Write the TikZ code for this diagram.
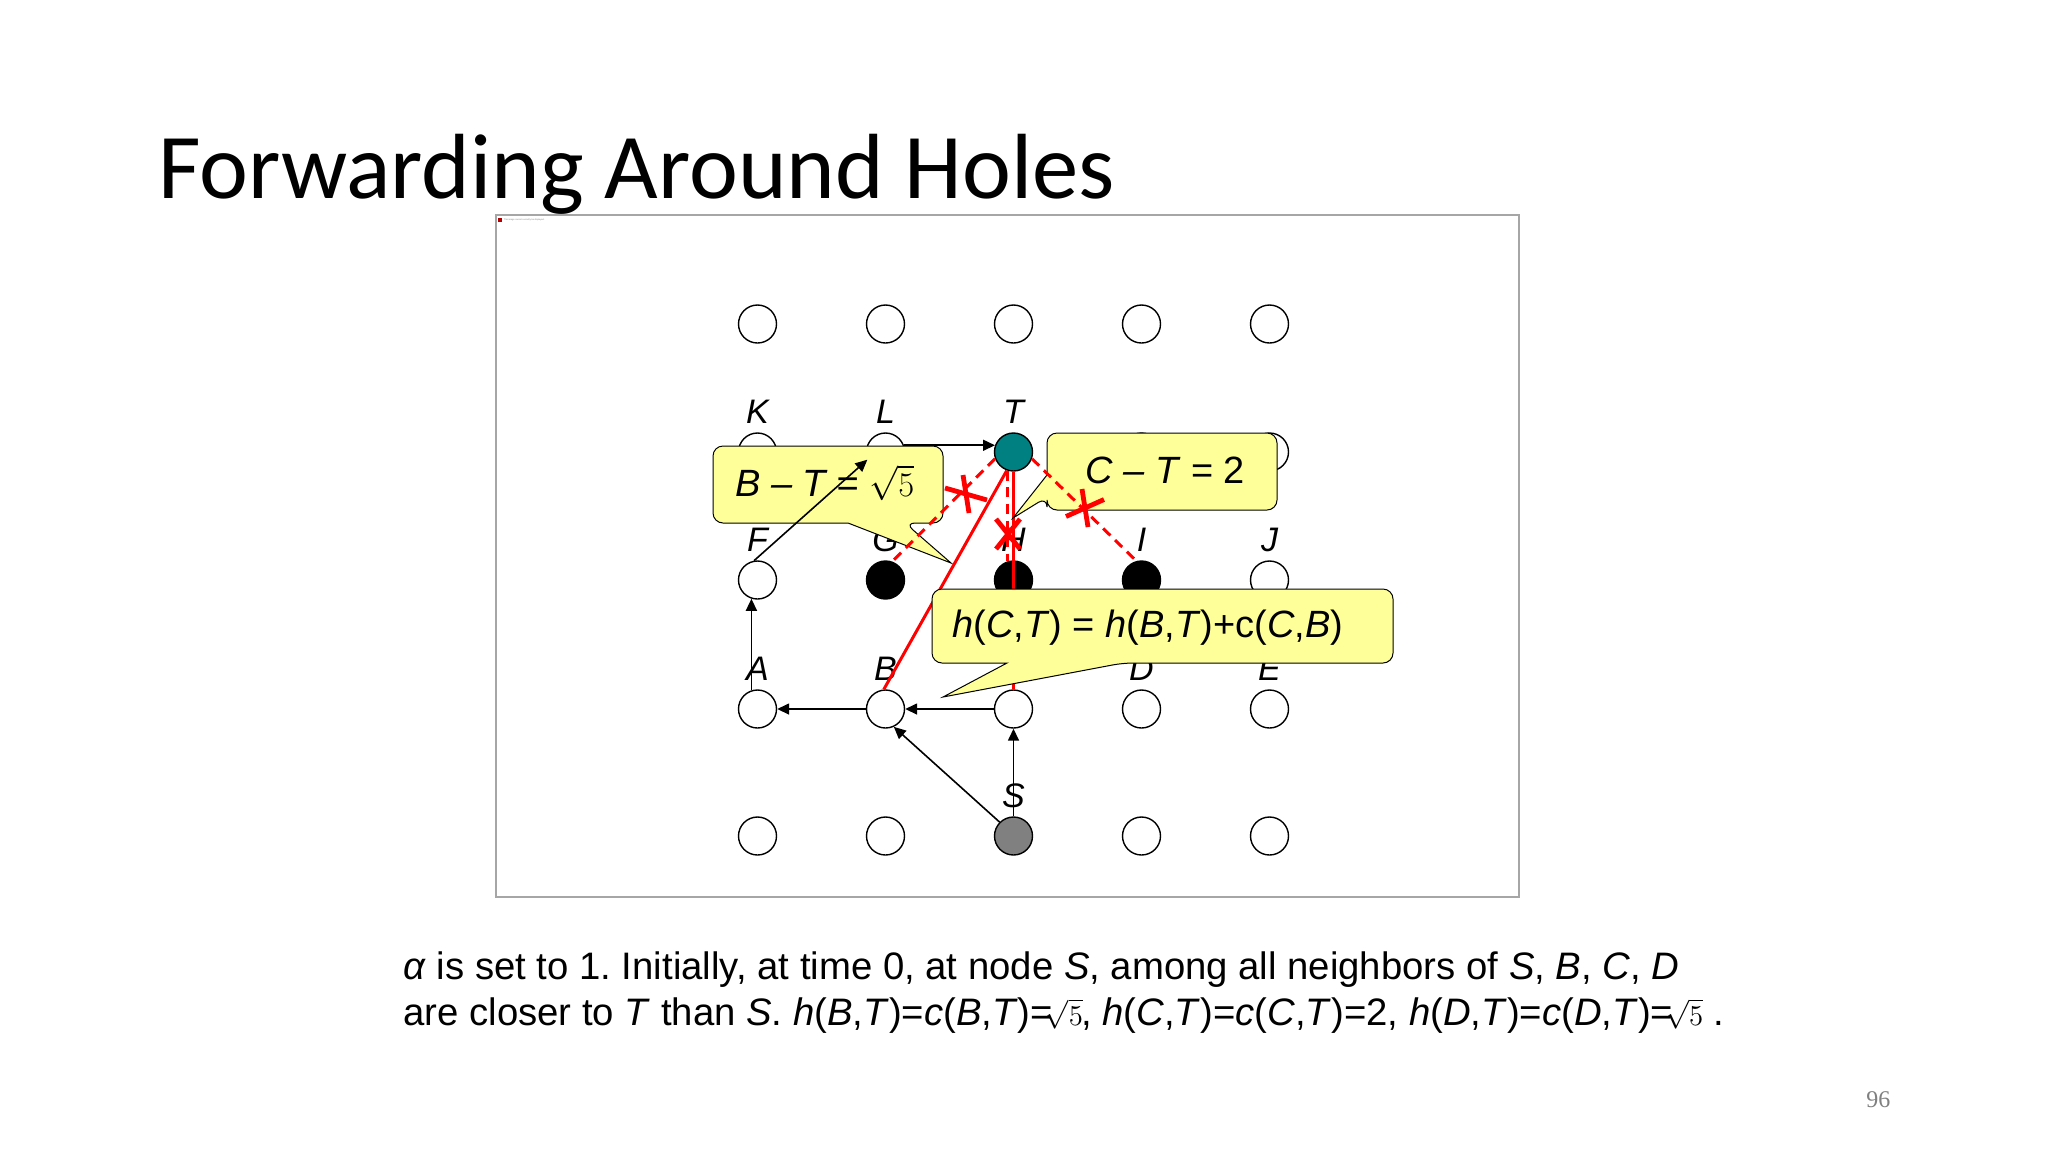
\documentclass[tikz,border=0pt]{standalone}
\usepackage{fontspec}
\setmainfont{Liberation Sans}
\newfontfamily\titlefont{Carlito}
\newfontfamily\numfont{Liberation Serif}
\usetikzlibrary{arrows.meta}
\definecolor{callfill}{HTML}{FFFF99}
\definecolor{tealnode}{HTML}{008080}
\definecolor{framegray}{HTML}{A6A6A6}
\newcommand{\rtcall}{{\fontsize{17}{17}\selectfont$\sqrt{5}$}}
\newcommand{\rtline}{{\fontsize{15.5}{15.5}\selectfont$\sqrt{5}$}}
\begin{document}
\frenchspacing
\begin{tikzpicture}[x=0.5pt,y=-0.5pt,
  vert/.style={circle, draw=black, line width=0.7pt, minimum size=19pt, inner sep=0pt, fill=white},
  lab/.style={font=\fontsize{17}{19}\selectfont\itshape, anchor=base, inner sep=0pt},
  arr/.style={line width=0.8pt, -{Triangle[length=6pt,width=5.5pt]}},
  redsolid/.style={red, line width=1.5pt},
  reddash/.style={red, line width=1.5pt, dash pattern=on 5pt off 3.3pt},
  xmark/.style={red, line width=2.4pt},
  callout/.style={fill=callfill, draw=black, line width=0.5pt},
  ctext/.style={font=\fontsize{19}{22}\selectfont, anchor=base west, inner sep=0pt},
  btext/.style={font=\fontsize{19.15}{23}\selectfont, anchor=base west, inner sep=0pt}]
\useasboundingbox (0,0) rectangle (2048,1152);
\fill[white] (0,0) rectangle (2048,1152);

% title
\node[font=\titlefont\fontsize{46.3}{50}\selectfont, anchor=base west, inner sep=0pt] (title) at (158,198) {Forwarding Around Holes};

% frame of the picture
\draw[framegray, line width=0.75pt] (496,215) rectangle (1519,897);
\fill[red!70!black] (497.5,217.5) rectangle (502,222);
\node[font=\fontsize{1.1}{1.3}\selectfont, anchor=west, inner sep=0pt, text=gray] (broken) at (503.5,219.7) {This image cannot currently be displayed.};

% grid of nodes
\node[vert] (n11) at (757.5,324) {};
\node[vert] (n12) at (885.5,324) {};
\node[vert] (n13) at (1013.5,324) {};
\node[vert] (n14) at (1141.5,324) {};
\node[vert] (n15) at (1269.5,324) {};
\node[vert] (K) at (757.5,452) {};
\node[vert] (L) at (885.5,452) {};
\node[vert, fill=tealnode] (T) at (1013.5,452) {};
\node[vert] (n24) at (1141.5,452) {};
\node[vert] (n25) at (1269.5,452) {};
\node[vert] (F) at (757.5,580) {};
\node[vert, fill=black] (G) at (885.5,580) {};
\node[vert, fill=black] (H) at (1013.5,580) {};
\node[vert, fill=black] (I) at (1141.5,580) {};
\node[vert] (J) at (1269.5,580) {};
\node[vert] (A) at (757.5,709) {};
\node[vert] (B) at (885.5,709) {};
\node[vert] (C) at (1013.5,709) {};
\node[vert] (D) at (1141.5,709) {};
\node[vert] (E) at (1269.5,709) {};
\node[vert] (n51) at (757.5,836) {};
\node[vert] (n52) at (885.5,836) {};
\node[vert, fill=gray] (S) at (1013.5,836) {};
\node[vert] (n54) at (1141.5,836) {};
\node[vert] (n55) at (1269.5,836) {};

% labels
\node[lab] (lK) at (757.5,423) {K};
\node[lab] (lL) at (885.5,423) {L};
\node[lab] (lT) at (1013.5,423) {T};
\node[lab] (lF) at (757.5,551) {F};
\node[lab] (lG) at (885.5,551) {G};
\node[lab] (lH) at (1013.5,551) {H};
\node[lab] (lI) at (1141.5,551) {I};
\node[lab] (lJ) at (1269.5,551) {J};
\node[lab] (lA) at (757.5,680) {A};
\node[lab] (lB) at (885.5,680) {B};
\node[lab] (lD) at (1141.5,680) {D};
\node[lab] (lE) at (1269.5,680) {E};
\node[lab] (lS) at (1013.5,807) {S};

% black arrows
\draw[arr] (S.north) -- (C.south);
\draw[arr] (S.135) -- (B.-65);
\draw[arr] (C.west) -- (B.east);
\draw[arr] (B.west) -- (A.east);
\draw[arr] (A.108) -- (F.252);

% solid red line T-C (hidden under the lower callout)
\draw[redsolid] (T.south) -- (C.north);

% callouts B-T and C-T
\path[callout, rounded corners=5pt] (828,446) -- (943,446) -- (943,523) -- (905,523) [sharp corners] -- (951,563) -- (848,523) [rounded corners=5pt] -- (713,523) -- (713,446) -- cycle;
\node[ctext] (tBT) at (735,496) {\textit{B – T =} \rtcall};

\path[callout, rounded corners=5pt] (1162,433) -- (1277,433) -- (1277,510) -- (1047,510) -- (1047,497) [sharp corners] -- (1013,518) -- (1047,475) [rounded corners=5pt] -- (1047,433) -- cycle;
\node[ctext] (tCT) at (1085,483) {\textit{C – T} = 2};

% red lines over these callouts
\draw[reddash] (T.200) -- (G.70);
\draw[reddash] (T.252) -- (H.108);
\draw[reddash] (T.-20) -- (I.105);
\draw[redsolid] (T.250) -- (B.95);

% crosses
\draw[xmark] (966,494) ++(-21,-6) -- ++(42,12);
\draw[xmark] (966,494) ++(-3,-19) -- ++(6,38);
\draw[xmark] (1008,534) ++(-12,-15) -- ++(24,30);
\draw[xmark] (1008,534) ++(12,-15) -- ++(-24,30);
\draw[xmark] (1085,508) ++(-19,8.5) -- ++(38,-17);
\draw[xmark] (1085,508) ++(-3,-19) -- ++(6,38);

% lower callout
\path[callout, rounded corners=5pt] (1162,589) -- (1393,589) -- (1393,663) -- (1123,663) [sharp corners] -- (943,697) -- (1007,663) [rounded corners=5pt] -- (932,663) -- (932,589) -- cycle;
\node[ctext] (tH) at (952,637) {\textit{h}(\textit{C},\textit{T}) = \textit{h}(\textit{B},\textit{T})+c(\textit{C},\textit{B})};

% arrows over the callout
\draw[arr] (F.100) -- (L.203);
\draw[arr] (L.20) -- (T.160);

% caption
\node[btext] (line1) at (403,979) {\textit{α} is set to 1. Initially, at time 0, at node \textit{S}, among all neighbors of \textit{S}, \textit{B}, \textit{C}, \textit{D}};
\node[btext] (line2) at (403,1025) {are closer to \textit{T} than \textit{S}. \textit{h}(\textit{B},\textit{T})=\textit{c}(\textit{B},\textit{T})=\kern-4pt\rtline\kern-1pt, \textit{h}(\textit{C},\textit{T})=\textit{c}(\textit{C},\textit{T})=2, \textit{h}(\textit{D},\textit{T})=\textit{c}(\textit{D},\textit{T})=\kern-4pt\rtline\ .};

% page number
\node[font=\numfont\fontsize{12}{14}\selectfont, text=gray, anchor=base west, inner sep=0pt] (pg) at (1866,1107) {96};
\end{tikzpicture}
\end{document}
